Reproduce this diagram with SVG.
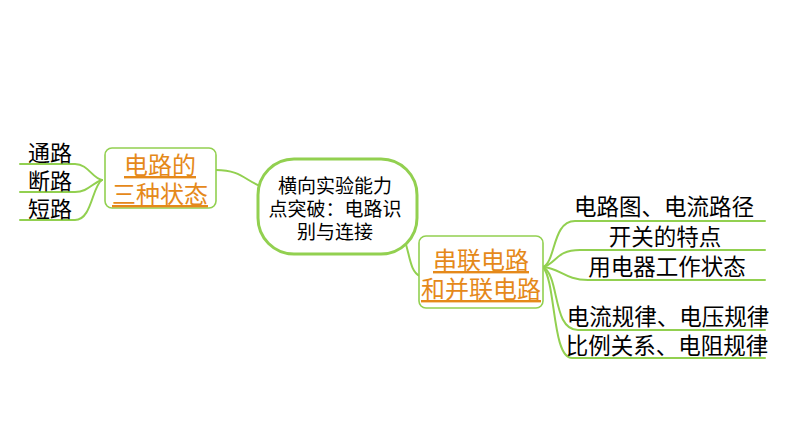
<svg xmlns="http://www.w3.org/2000/svg" width="794" height="447" viewBox="0 0 794 447">
<style>
.c{fill:none;stroke:#92D050;stroke-width:2;stroke-linecap:round}
.box{fill:#fff;stroke:#92D050;stroke-width:1.6}
.hub{fill:#fff;stroke:#92D050;stroke-width:3}
.t{font-family:"Noto Sans CJK SC","Noto Sans",sans-serif;fill:#000;text-anchor:middle}
.o{font-family:"Noto Sans CJK SC","Noto Sans",sans-serif;fill:#E5891A;text-anchor:middle;text-decoration:underline}
</style>
<rect width="794" height="447" fill="#fff"/>
<g id="connectors">
<path class="c" d="M102,180 C92,178 88,164 75,164 L20,164"/>
<path class="c" d="M102,180 C92,183 88,192 75,192 L20,192"/>
<path class="c" d="M102,180 C92,186 92,220 75,220 L20,220"/>
<path class="c" d="M216,170 C240,170 245,180 260,186"/>
<path class="c" d="M404,238 C410,255 410,272 420,276"/>
<path class="c" d="M543,267 C556,262 552,221 575,221 L765,221"/>
<path class="c" d="M543,267 C556,264 556,250 580,250 L765,250"/>
<path class="c" d="M543,267 C560,268 565,280 588,280 L765,280"/>
<path class="c" d="M543,267 C560,276 552,330 578,330 L765,330"/>
<path class="c" d="M543,267 C556,282 552,358 572,358 L765,358"/>
</g>
<g id="leaf-tonglu"><text class="t" x="50" y="161" font-size="22">通路</text></g>
<g id="leaf-duanlu"><text class="t" x="50" y="189" font-size="22">断路</text></g>
<g id="leaf-duanlu2"><text class="t" x="50" y="217" font-size="22">短路</text></g>
<g id="node-states">
<rect class="box" x="105" y="148" width="111" height="60" rx="7"/>
<text class="o" x="160" y="174" font-size="24">电路的</text>
<text class="o" x="160" y="203" font-size="24">三种状态</text>
</g>
<g id="node-center">
<rect class="hub" x="258" y="159" width="159" height="95" rx="36"/>
<text class="t" x="335" y="193" font-size="19">横向实验能力</text>
<text class="t" x="335" y="216" font-size="19">点突破：电路识</text>
<text class="t" x="335" y="239" font-size="19">别与连接</text>
</g>
<g id="node-circuits">
<rect class="box" x="419" y="236" width="124" height="72" rx="7"/>
<text class="o" x="481" y="269" font-size="24">串联电路</text>
<text class="o" x="481" y="298" font-size="24">和并联电路</text>
</g>
<g id="leaf-1"><text class="t" x="664" y="215" font-size="22.5">电路图、电流路径</text></g>
<g id="leaf-2"><text class="t" x="665" y="245" font-size="22.5">开关的特点</text></g>
<g id="leaf-3"><text class="t" x="667" y="275" font-size="22.5">用电器工作状态</text></g>
<g id="leaf-4"><text class="t" x="668" y="325" font-size="22.5">电流规律、电压规律</text></g>
<g id="leaf-5"><text class="t" x="667" y="354" font-size="22.5">比例关系、电阻规律</text></g>
</svg>
